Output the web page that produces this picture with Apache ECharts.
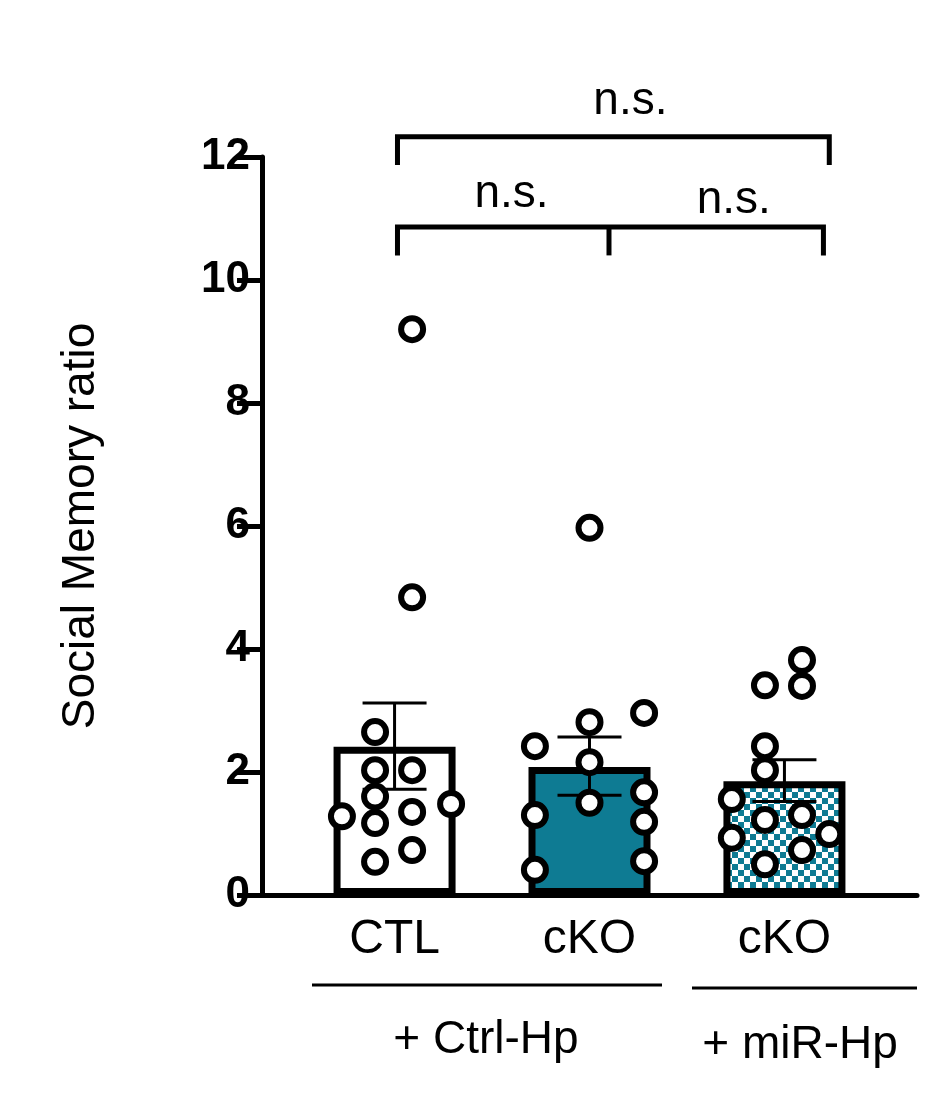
<!DOCTYPE html>
<html><head><meta charset="utf-8">
<script src="https://cdn.jsdelivr.net/npm/echarts@6/dist/echarts.min.js"></script>
<style>html,body{margin:0;background:#fff}#c{width:936px;height:1094px}</style>
</head><body><div id="c"></div>
<script>
var groups = ['CTL', 'cKO', 'cKO'];
var means = [2.41, 2.08, 1.85];
var errLow = [1.72, 1.62, 1.52];
var errHigh = [3.12, 2.57, 2.20];
var ctlPts = [[0.09,9.2],[0.09,4.84],[-0.1,2.65],[-0.1,2.03],[0.09,2.03],[-0.1,1.6],[0.29,1.48],[-0.27,1.28],[0.09,1.35],[-0.1,1.17],[0.09,0.73],[-0.1,0.54]];
var ckoPts = [[0,5.97],[0,2.81],[0.28,2.96],[-0.28,2.42],[0,2.16],[0,1.5],[0.28,1.67],[-0.28,1.3],[0.28,1.19],[0.28,0.55],[-0.28,0.41]];
var mirPts = [[-0.1,3.41],[0.09,3.82],[0.09,3.4],[-0.1,2.42],[-0.1,2.03],[-0.27,1.56],[-0.1,1.22],[0.09,1.3],[-0.27,0.93],[0.09,0.73],[0.23,0.99],[-0.1,0.5]];
var yTicks = [0, 2, 4, 6, 8, 10, 12];

var teal = '#0e7b93';
var pc = document.createElement('canvas');
pc.width = 12; pc.height = 12;
var g = pc.getContext('2d');
g.fillStyle = '#fff'; g.fillRect(0, 0, 12, 12);
g.fillStyle = teal; g.fillRect(0, 0, 6, 6); g.fillRect(6, 6, 6, 6);

var chart = echarts.init(document.getElementById('c'));
var font = '"Liberation Sans", Arial, sans-serif';
function shift(pts, c) { return pts.map(function (p) { return [p[0] + c, p[1]]; }); }
var allPts = shift(ctlPts, 0).concat(shift(ckoPts, 1), shift(mirPts, 2));

chart.setOption({
  animation: false,
  grid: { left: 262, right: 19, top: 157, bottom: 199 },
  xAxis: {
    type: 'value', min: -0.68, max: 2.68, splitLine: { show: false },
    axisLine: { show: true, onZero: false, lineStyle: { color: '#000', width: 5 } },
    axisTick: { show: false }, axisLabel: { show: false }
  },
  yAxis: {
    type: 'value', min: 0, max: 12, interval: 2,
    name: 'Social Memory ratio', nameLocation: 'middle', nameGap: 158,
    nameTextStyle: { fontFamily: font, fontSize: 46, color: '#000' },
    splitLine: { show: false },
    axisLine: { show: true, onZero: false, lineStyle: { color: '#000', width: 5 } },
    axisTick: { show: true, length: 25, lineStyle: { color: '#000', width: 5 } },
    axisLabel: { fontFamily: font, fontSize: 44, fontWeight: 'bold', color: '#000', margin: 12 }
  },
  series: [
    {
      type: 'bar', barWidth: 122,
      data: means.map(function (m, i) {
        return { value: [i, m], itemStyle: { color: i === 0 ? '#fff' : (i === 1 ? teal : { image: pc, repeat: 'repeat' }), borderColor: '#000', borderWidth: 7 } };
      }),
      z: 1
    },
    {
      type: 'custom', z: 3,
      data: means.map(function (m, i) { return [i, errLow[i], errHigh[i], m]; }),
      renderItem: function (params, api) {
        var lo = api.coord([api.value(0), api.value(1)]);
        var hi = api.coord([api.value(0), api.value(2)]);
        var w = 32;
        var st = { stroke: '#000', lineWidth: 3 };
        return { type: 'group', children: [
          { type: 'line', shape: { x1: hi[0], y1: hi[1], x2: lo[0], y2: lo[1] }, style: st },
          { type: 'line', shape: { x1: hi[0] - w, y1: hi[1], x2: hi[0] + w, y2: hi[1] }, style: st },
          { type: 'line', shape: { x1: lo[0] - w, y1: lo[1], x2: lo[0] + w, y2: lo[1] }, style: st }
        ] };
      }
    },
    {
      type: 'scatter', z: 4, symbol: 'circle', symbolSize: 22,
      itemStyle: { color: '#fff', borderColor: '#000', borderWidth: 6, opacity: 1 },
      data: allPts
    }
  ]
});

function px(x, y) { return chart.convertToPixel({ gridIndex: 0 }, [x, y]); }
var st = { stroke: '#000', lineWidth: 5, fill: null };
function bracket(x1, x2, y, drop, mid) {
  var a = px(x1, y), b = px(x2, y), d = px(x1, y - drop);
  var pts = [[a[0], d[1]], a, b, [b[0], d[1]]];
  var out = [{ type: 'polyline', shape: { points: pts }, style: st }];
  if (mid !== undefined) { var m = px(mid, y); out.push({ type: 'line', shape: { x1: m[0], y1: m[1], x2: m[0], y2: d[1] }, style: st }); }
  return out;
}
function txt(x, y, s, size) { return { type: 'text', x: x, y: y, style: { text: s, fontFamily: font, fontSize: size, fill: '#000', align: 'center', verticalAlign: 'middle' } }; }
var els = [].concat(
  bracket(0.015, 2.23, 12.33, 0.46),
  bracket(0.015, 2.2, 10.86, 0.46, 1.1)
);
var t1 = px(1.21, 12.9), t2 = px(0.6, 11.4), t3 = px(1.74, 11.3);
els.push(txt(t1[0], t1[1], 'n.s.', 46), txt(t2[0], t2[1], 'n.s.', 46), txt(t3[0], t3[1], 'n.s.', 46));
groups.forEach(function (gname, i) { var p = px(i, 0); els.push(txt(p[0], 940, gname, 48)); });
els.push({ type: 'line', shape: { x1: 312, y1: 985, x2: 662, y2: 985 }, style: { stroke: '#000', lineWidth: 3 } });
els.push({ type: 'line', shape: { x1: 692, y1: 988, x2: 917, y2: 988 }, style: { stroke: '#000', lineWidth: 3 } });
els.push(txt(486, 1040, '+ Ctrl-Hp', 46), txt(800, 1045, '+ miR-Hp', 46));
chart.setOption({ graphic: { elements: els } });
</script></body></html>
